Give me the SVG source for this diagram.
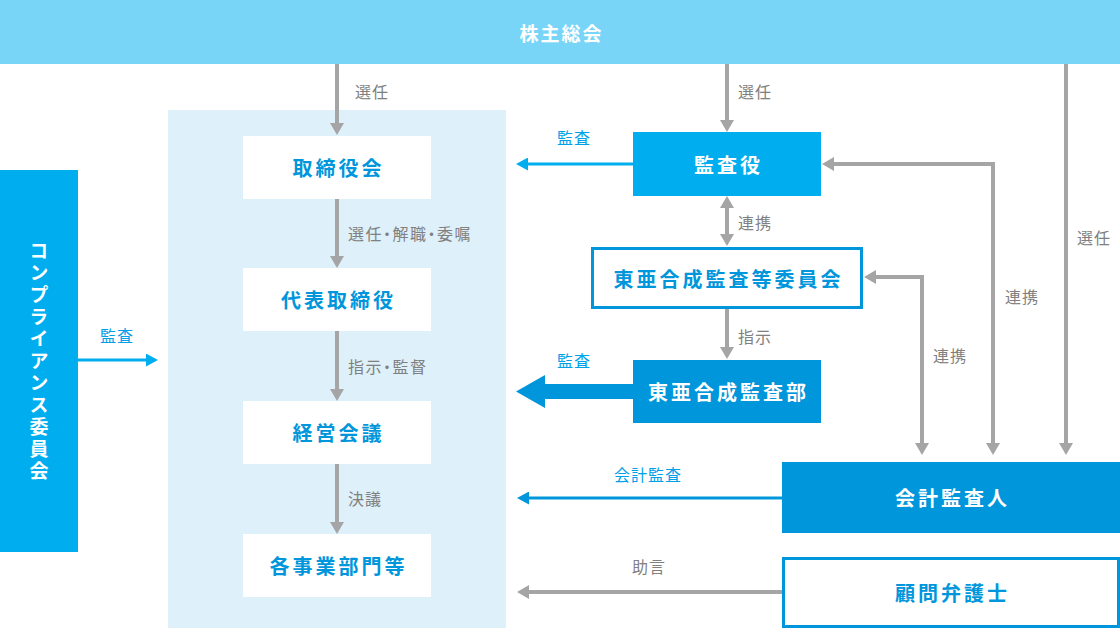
<svg xmlns="http://www.w3.org/2000/svg" width="1120" height="628" viewBox="0 0 1120 628">
<style>
text{font-family:"Noto Sans CJK JP","Noto Sans",sans-serif;dominant-baseline:central}
.nt{font-size:20px;font-weight:bold;letter-spacing:3px;text-anchor:middle}
.w{fill:#FFFFFF}
.b{fill:#0096DB}
.lb{font-size:16px;letter-spacing:1px}
.pt{font-feature-settings:"palt";letter-spacing:1.5px}
.lg{fill:#808080}
.lbl1{fill:#00A0E9}
.g{stroke:#A5A5A5;stroke-width:4;fill:none}
.c1{stroke:#00AEEF;stroke-width:3;fill:none}
.c2{stroke:#0096DB;stroke-width:3;fill:none}
</style>
<defs>
<marker id="ag" markerUnits="userSpaceOnUse" markerWidth="12" markerHeight="14" viewBox="0 0 12 14" refX="2" refY="7" orient="auto-start-reverse"><path d="M0,0L12,7L0,14z" fill="#A5A5A5"/></marker>
<marker id="ab1" markerUnits="userSpaceOnUse" markerWidth="12" markerHeight="13" viewBox="0 0 12 13" refX="2" refY="6.5" orient="auto"><path d="M0,0L12,6.5L0,13z" fill="#00AEEF"/></marker>
<marker id="ab2" markerUnits="userSpaceOnUse" markerWidth="12" markerHeight="13" viewBox="0 0 12 13" refX="2" refY="6.5" orient="auto"><path d="M0,0L12,6.5L0,13z" fill="#0096DB"/></marker>
</defs>
<rect width="1120" height="628" fill="#FFFFFF"/>
<g id="panel"><rect x="168" y="110" width="338" height="518" fill="#DEF0FA"/></g>
<g id="shareholders"><rect x="0" y="0" width="1120" height="64" fill="#79D5F7"/><text class="nt w" x="561.5" y="32" style="font-size:19px;letter-spacing:2px">株主総会</text></g>
<g id="board"><rect x="243" y="136" width="188" height="63" fill="#FFFFFF"/><text class="nt b" x="338.5" y="167.5">取締役会</text></g>
<g id="president"><rect x="243" y="268" width="188" height="63" fill="#FFFFFF"/><text class="nt b" x="338.5" y="299.5">代表取締役</text></g>
<g id="management"><rect x="243" y="401" width="188" height="63" fill="#FFFFFF"/><text class="nt b" x="338.5" y="432.5">経営会議</text></g>
<g id="divisions"><rect x="243" y="534" width="188" height="63" fill="#FFFFFF"/><text class="nt b" x="338.5" y="565.5">各事業部門等</text></g>
<g id="compliance"><rect x="0" y="170" width="78" height="382" fill="#00AEEF"/><text class="w" x="39" y="362" style="font-size:19px;font-weight:bold;letter-spacing:3px;writing-mode:vertical-rl;text-anchor:middle">コンプライアンス委員会</text></g>
<g id="auditors"><rect x="633" y="132" width="188" height="64" fill="#00AEEF"/><text class="nt w" x="728.5" y="164">監査役</text></g>
<g id="committee"><rect x="592.5" y="248.5" width="269" height="59" fill="#FFFFFF" stroke="#0096DB" stroke-width="3"/><text class="nt b" x="728.5" y="278">東亜合成監査等委員会</text></g>
<g id="auditdept"><rect x="633" y="360" width="188" height="63" fill="#0096DB"/><text class="nt w" x="728.5" y="391.5">東亜合成監査部</text></g>
<g id="accountant"><rect x="782" y="462" width="338" height="71" fill="#0096DB"/><text class="nt w" x="952.5" y="497.5">会計監査人</text></g>
<g id="lawyer"><rect x="783.5" y="558.5" width="335" height="68" fill="#FFFFFF" stroke="#0096DB" stroke-width="3"/><text class="nt b" x="952.5" y="592.5">顧問弁護士</text></g>
<g id="connectors">
<line class="g" x1="337" y1="64" x2="337" y2="125" marker-end="url(#ag)"/>
<line class="g" x1="727" y1="64" x2="727" y2="122" marker-end="url(#ag)"/>
<line class="g" x1="1066" y1="64" x2="1066" y2="445" marker-end="url(#ag)"/>
<line class="g" x1="337" y1="199" x2="337" y2="258" marker-end="url(#ag)"/>
<line class="g" x1="337" y1="331" x2="337" y2="391" marker-end="url(#ag)"/>
<line class="g" x1="337" y1="464" x2="337" y2="524" marker-end="url(#ag)"/>
<line class="g" x1="727" y1="206" x2="727" y2="236" marker-start="url(#ag)" marker-end="url(#ag)"/>
<line class="g" x1="727" y1="309" x2="727" y2="349" marker-end="url(#ag)"/>
<path class="g" d="M832,164H993V445" marker-start="url(#ag)" marker-end="url(#ag)"/>
<path class="g" d="M874,277H922V445" marker-start="url(#ag)" marker-end="url(#ag)"/>
<line class="g" x1="782" y1="592" x2="527" y2="592" marker-end="url(#ag)"/>
<line class="c1" x1="78" y1="360" x2="148" y2="360" marker-end="url(#ab1)"/>
<line class="c1" x1="633" y1="164" x2="526" y2="164" marker-end="url(#ab1)"/>
<line class="c2" x1="782" y1="498" x2="527" y2="498" marker-end="url(#ab2)"/>
<polygon points="633,384 545,384 545,375 516,391.5 545,408 545,399 633,399" fill="#0096DB"/>
</g>
<g id="labels">
<text class="lb lg" x="355" y="91">選任</text>
<text class="lb lg" x="738" y="91">選任</text>
<text class="lb lg" x="1077" y="237">選任</text>
<text class="lb lg pt" x="348" y="233">選任・解職・委嘱</text>
<text class="lb lg pt" x="348" y="366">指示・監督</text>
<text class="lb lg" x="348" y="498">決議</text>
<text class="lb lg" x="738" y="222">連携</text>
<text class="lb lg" x="738" y="336">指示</text>
<text class="lb lg" x="1005" y="296">連携</text>
<text class="lb lg" x="933" y="355">連携</text>
<text class="lb lg" x="632" y="566">助言</text>
<text class="lb lbl1" x="557" y="137">監査</text>
<text class="lb lbl1" x="557" y="360">監査</text>
<text class="lb lbl1" x="100" y="335">監査</text>
<text class="lb lbl1" x="614" y="474">会計監査</text>
</g>
</svg>
